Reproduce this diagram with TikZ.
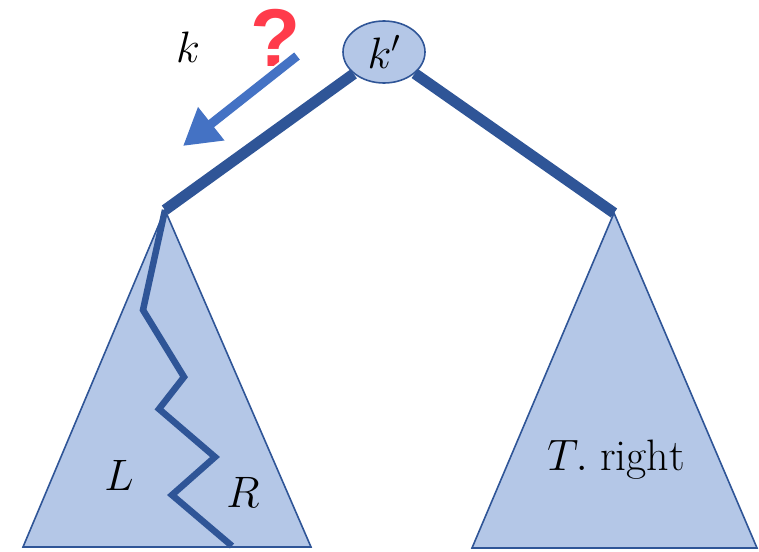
\RequirePackage{fix-cm}
\documentclass[tikz,border=0pt]{standalone}
\usepackage{fontspec}
\newfontfamily\qfont{Liberation Sans}
\usetikzlibrary{shapes.geometric,arrows.meta}
\definecolor{fillblue}{HTML}{B4C7E7}
\definecolor{darkblue}{HTML}{2F5597}
\definecolor{arrowblue}{HTML}{4472C4}
\definecolor{qred}{HTML}{FF3B4B}
\tikzset{
  tri/.style={fill=fillblue,draw=darkblue,line width=1.6pt,line join=miter},
  edge/.style={draw=darkblue,line width=11pt},
  zig/.style={draw=darkblue,line width=6.5pt,line join=miter},
  lbl/.style={font=\fontsize{44}{50}\selectfont,inner sep=0pt},
  keynode/.style={ellipse,fill=fillblue,draw=darkblue,line width=1.6pt,minimum width=82pt,minimum height=62pt,inner sep=0pt,font=\fontsize{44}{50}\selectfont},
}
\begin{document}
\begin{tikzpicture}[x=1pt,y=-1pt]
\useasboundingbox (0,0) rectangle (759,551);
% coordinates
\coordinate (la) at (165,210);
\coordinate (ra) at (614,213);
% triangles
\draw[tri] (la) -- (23,547) -- (311,547) -- cycle;
\draw[tri] (ra) -- (472,548) -- (757,548) -- cycle;
% key node
\node[keynode] (kp) at (384,52) {$k'$};
% edges
\draw[edge] (kp) -- (la);
\draw[edge] (kp) -- (ra);
% zigzag
\draw[zig] (la) -- (143,310) -- (184,377) -- (159,409) -- (215,457) -- (172,495) -- (232,546);
% labels
\node[lbl] (L) at (119,475) {$L$};
\node[lbl] (R) at (243,492) {$R$};
\node[lbl] (Tr) at (616,460) {$T.\;\mathrm{right}$};
\node[lbl] (k) at (188,47) {$k$};
% question mark
\node[font=\qfont\bfseries\fontsize{82}{90}\selectfont,text=qred,inner sep=0pt] (q) at (276,38) {?};
% arrow
\coordinate (as) at (297,56);
\coordinate (at) at (183,146);
\draw[white,line width=13pt,-{Triangle[width=46pt,length=40pt]}] (as) -- (at);
\draw[arrowblue,line width=9pt,-{Triangle[width=40pt,length=36pt]}] (as) -- (at);
\end{tikzpicture}
\end{document}
